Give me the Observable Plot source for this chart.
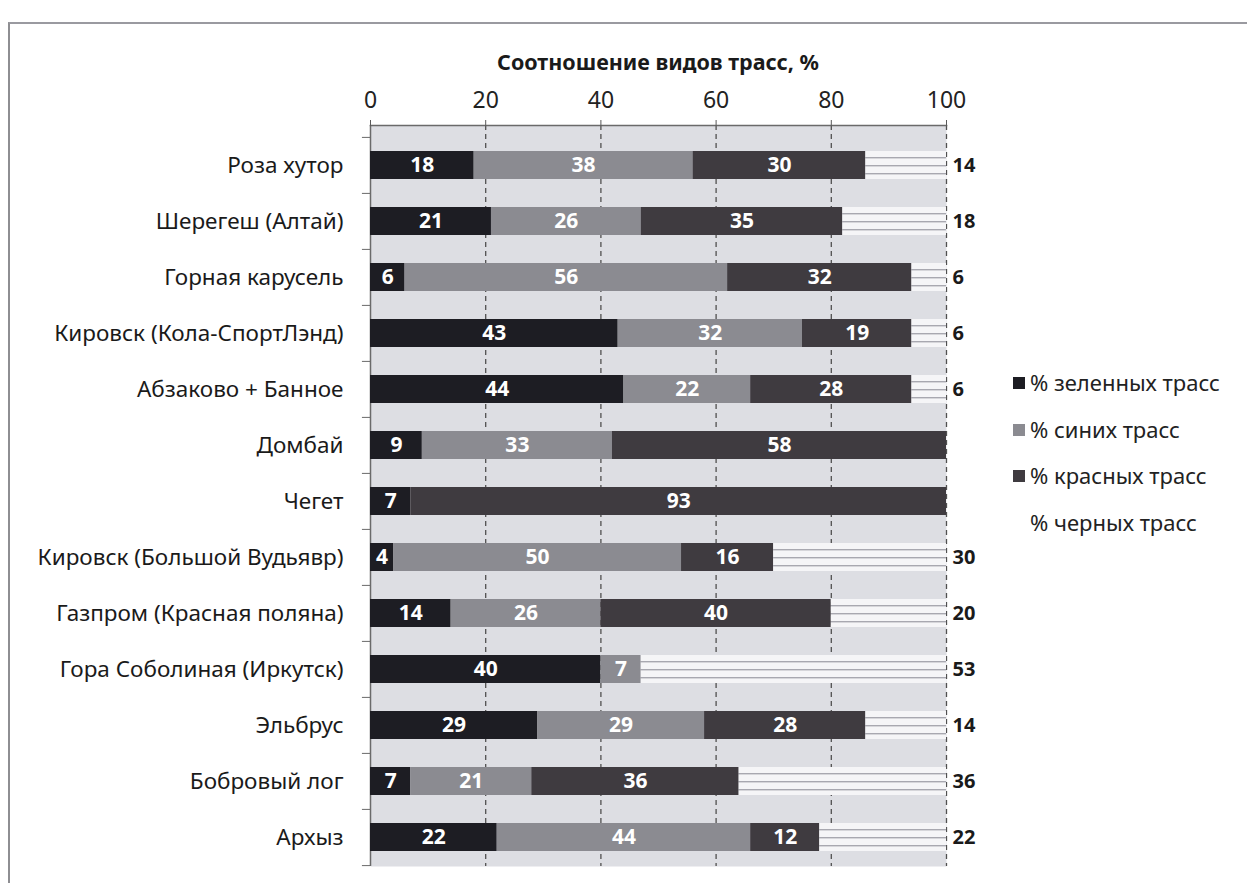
<!DOCTYPE html>
<html>
<head>
<meta charset="utf-8">
<script src="https://cdn.jsdelivr.net/npm/d3@7"></script>
<script src="https://cdn.jsdelivr.net/npm/@observablehq/plot@0.6"></script>
<style>
  html, body { margin: 0; padding: 0; background: #ffffff; }
  #wrap { position: relative; width: 1247px; height: 883px; overflow: hidden; font-family: "Noto Sans", sans-serif; }
  #border { position: absolute; left: 8px; top: 22px; right: 0; bottom: 0; border-left: 2px solid #8e8e92; border-top: 2px solid #9a9aa0; }
  #title { position: absolute; left: 370px; width: 576px; top: 47px; text-align: center; font-weight: bold; font-size: 21.5px; color: #1a1a1a; line-height: 30px; }
  #legend { position: absolute; left: 1013px; top: 366px; font-size: 22px; color: #222; }
  #legend .item { height: 46.5px; display: flex; align-items: flex-start; line-height: 32px; white-space: nowrap; }
  #legend .sw { width: 12px; height: 12px; margin-top: 11px; margin-right: 5px; }
  #chart { position: absolute; left: 0; top: 0; }
</style>
</head>
<body>
<div id="wrap">
  <div id="border"></div>
  <div id="chart"></div>
  <div id="title"></div>
  <div id="legend"></div>
</div>
<script>
const titleText = "Соотношение видов трасс, %";
const categories = [
  "Роза хутор",
  "Шерегеш (Алтай)",
  "Горная карусель",
  "Кировск (Кола-СпортЛэнд)",
  "Абзаково + Банное",
  "Домбай",
  "Чегет",
  "Кировск (Большой Вудьявр)",
  "Газпром (Красная поляна)",
  "Гора Соболиная (Иркутск)",
  "Эльбрус",
  "Бобровый лог",
  "Архыз"
];
const seriesNames = ["% зеленных трасс", "% синих трасс", "% красных трасс", "% черных трасс"];
const green = [18, 21, 6, 43, 44, 9, 7, 4, 14, 40, 29, 7, 22];
const blue  = [38, 26, 56, 32, 22, 33, 0, 50, 26, 7, 29, 21, 44];
const red   = [30, 35, 32, 19, 28, 58, 93, 16, 40, 0, 28, 36, 12];
const black = [14, 18, 6, 6, 6, 0, 0, 30, 20, 53, 14, 36, 22];
const xTicks = [0, 20, 40, 60, 80, 100];
const seriesColors = ["#1d1d23", "#8b8b91", "#3f3b40", "url(#blackStripes)"];

const seriesValues = [green, blue, red, black];
const data = [];
categories.forEach((c, i) => {
  seriesValues.forEach((vals, s) => {
    data.push({category: c, series: seriesNames[s], value: vals[i]});
  });
});
const blackData = categories.map((c, i) => ({category: c, value: black[i]})).filter(d => d.value > 0);

const chart = Plot.plot({
  width: 1247,
  height: 883,
  marginLeft: 370,
  marginRight: 301,
  marginTop: 125,
  marginBottom: 17,
  style: {fontFamily: "Noto Sans, sans-serif", background: "transparent", overflow: "visible"},
  x: {domain: [0, 100], ticks: xTicks},
  y: {domain: categories, paddingInner: 0.5, paddingOuter: 0.25, insetTop: 10},
  color: {domain: seriesNames, range: seriesColors},
  marks: [
    Plot.frame({fill: "#dddee3", stroke: null}),
    Plot.ruleX(xTicks.filter(t => t > 0), {stroke: "#505050", strokeDasharray: "5,4", strokeWidth: 1.3}),
    Plot.ruleX([0], {stroke: "#6a6a6a", strokeWidth: 1.5}),
    Plot.frame({anchor: "top", stroke: "#6a6a6a", strokeWidth: 1.5}),
    Plot.ruleY(categories, {y: d => d, x1: -1.4, x2: 0, dy: -28.1, stroke: "#6a6a6a"}),
    Plot.ruleY([categories[categories.length - 1]], {y: d => d, x1: -1.4, x2: 0, dy: 28.1, stroke: "#6a6a6a"}),
    Plot.barX(data, Plot.stackX({x: "value", y: "category", z: "series", fill: "series", order: seriesNames})),
    Plot.textX(data.filter(d => d.series !== seriesNames[3]), Plot.stackX({
      x: "value", y: "category", z: "series", order: seriesNames,
      text: d => d.value > 0 ? String(d.value) : "",
      fill: "white", fontWeight: "bold", fontSize: 21
    })),
    Plot.text(blackData, {x: 100, y: "category", text: d => String(d.value), textAnchor: "start", dx: 6, fill: "#1a1a1a", fontWeight: "bold", fontSize: 20}),
    Plot.axisX({anchor: "top", ticks: xTicks, tickSize: 6, tickPadding: 12, fontSize: 23, label: null, color: "#222", stroke: "#5a5a5a"}),
    Plot.axisY({tickSize: 0, tickPadding: 27, fontSize: 22.5, label: null, color: "#1a1a1a"})
  ]
});

// stripe pattern for the "black" series
const ns = "http://www.w3.org/2000/svg";
const defs = document.createElementNS(ns, "defs");
defs.innerHTML = '<pattern id="blackStripes" patternUnits="userSpaceOnUse" width="10" height="8">' +
  '<rect width="10" height="8" fill="#f5f5f7"></rect>' +
  '<rect y="5" width="10" height="1.4" fill="#a8a8b0"></rect></pattern>';
chart.insertBefore(defs, chart.firstChild);
document.getElementById("chart").appendChild(chart);

document.getElementById("title").textContent = titleText;
const legend = document.getElementById("legend");
seriesNames.forEach((name, i) => {
  const item = document.createElement("div");
  item.className = "item";
  const sw = document.createElement("div");
  sw.className = "sw";
  sw.style.background = i === 3 ? "transparent" : seriesColors[i];
  const label = document.createElement("span");
  label.textContent = name;
  item.appendChild(sw);
  item.appendChild(label);
  legend.appendChild(item);
});
</script>
</body>
</html>
